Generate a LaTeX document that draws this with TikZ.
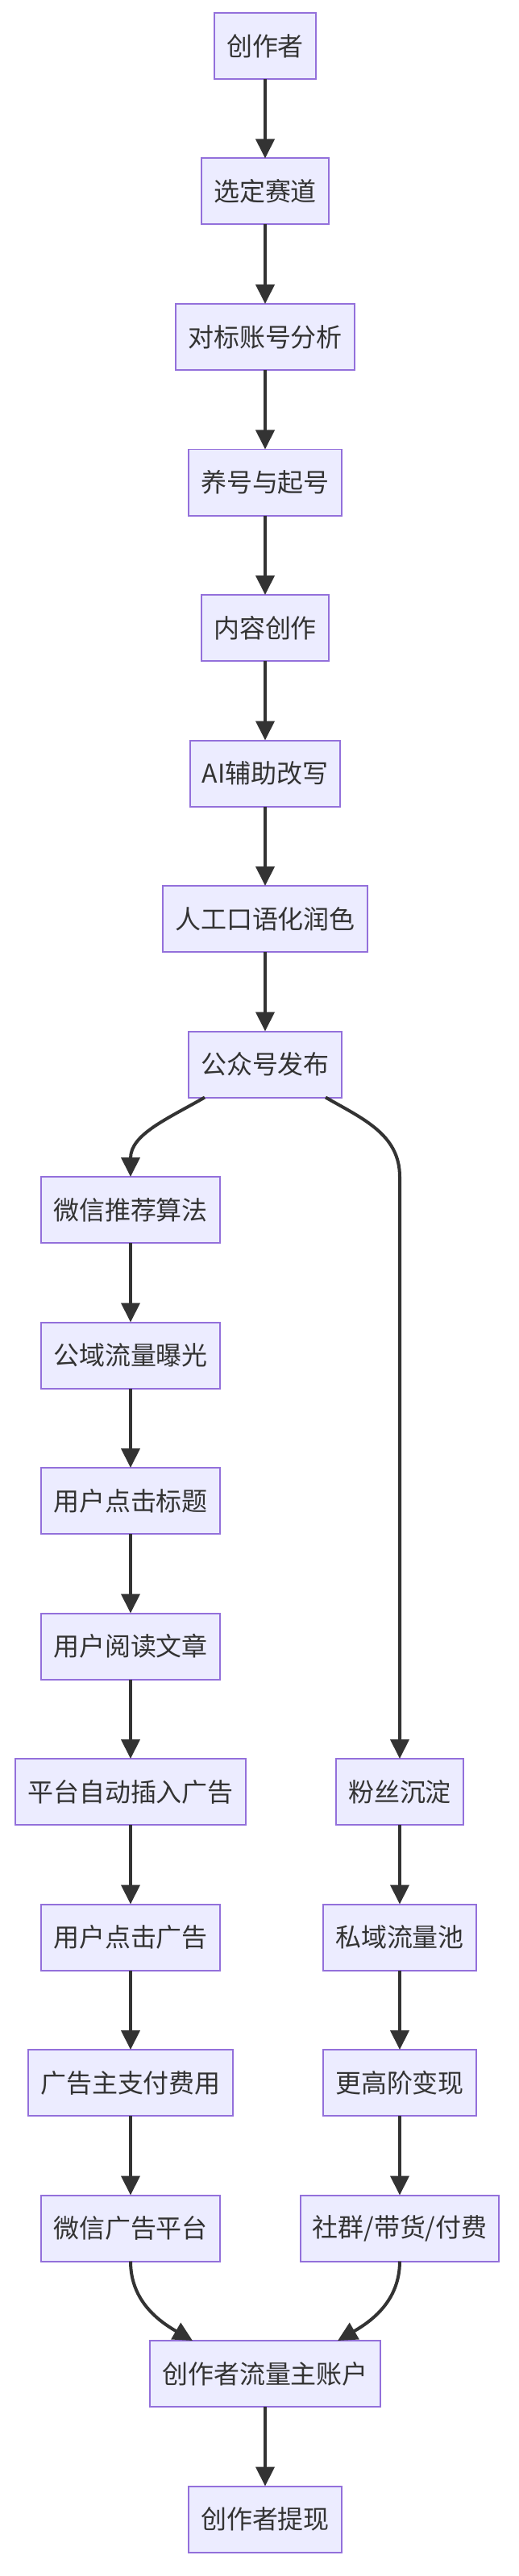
\documentclass[tikz,border=0pt]{standalone}
\usepackage{fontspec}
\setmainfont{Noto Sans CJK SC}
\usepackage{xcolor}
\usetikzlibrary{positioning, arrows.meta}
\definecolor{boxfill}{HTML}{ECECFF}
\definecolor{boxline}{HTML}{9370DB}
\definecolor{inkgray}{HTML}{333333}

\begin{document}
\begin{tikzpicture}[
    node distance=1.97cm,
    box/.style={rectangle, draw=boxline, fill=boxfill, line width=0.04cm, outer sep=0pt, minimum height=1.64cm, inner xsep=0.3cm, text=inkgray, font=\fontsize{18.2pt}{22pt}\selectfont},
    arrow/.style={-{Triangle[length=0.48cm, width=0.46cm]}, draw=inkgray, line width=0.08cm}
]
\useasboundingbox (0,0) rectangle (12.88,-63.92);

\node[box] (creator) at (6.58,-1.14) {创作者};
\node[box, below=of creator] (track) {选定赛道};
\node[box, below=of track] (bench) {对标账号分析};
\node[box, below=of bench] (raise) {养号与起号};
\node[box, below=of raise] (write) {内容创作};
\node[box, below=of write] (aiedit) {AI辅助改写};
\node[box, below=of aiedit] (polish) {人工口语化润色};
\node[box, below=of polish] (pub) {公众号发布};

\node[box, below=of pub, xshift=-3.34cm] (algo) {微信推荐算法};
\node[box, below=of algo] (expose) {公域流量曝光};
\node[box, below=of expose] (click) {用户点击标题};
\node[box, below=of click] (read) {用户阅读文章};
\node[box, below=of read] (insert) {平台自动插入广告};
\node[box, below=of insert] (adclick) {用户点击广告};
\node[box, below=of adclick] (pay) {广告主支付费用};
\node[box, below=of pay] (wxad) {微信广告平台};

\node[box] (fans) at ([xshift=6.68cm]insert.center) {粉丝沉淀};
\node[box, below=of fans] (pool) {私域流量池};
\node[box, below=of pool] (upgrade) {更高阶变现};
\node[box, below=of upgrade] (paid) {社群/带货/付费};

\node[box, below=of wxad, xshift=3.34cm] (acc) {创作者流量主账户};
\node[box, below=of acc] (cash) {创作者提现};

\draw[arrow] (creator) -- (track);
\draw[arrow] (track) -- (bench);
\draw[arrow] (bench) -- (raise);
\draw[arrow] (raise) -- (write);
\draw[arrow] (write) -- (aiedit);
\draw[arrow] (aiedit) -- (polish);
\draw[arrow] (polish) -- (pub);

\draw[arrow] ([xshift=-1.5cm]pub.south) to[out=-150, in=90] (algo);
\draw[arrow] ([xshift=1.5cm]pub.south) to[out=-30, in=90] (fans.north |- algo.north) -- (fans);

\draw[arrow] (algo) -- (expose);
\draw[arrow] (expose) -- (click);
\draw[arrow] (click) -- (read);
\draw[arrow] (read) -- (insert);
\draw[arrow] (insert) -- (adclick);
\draw[arrow] (adclick) -- (pay);
\draw[arrow] (pay) -- (wxad);

\draw[arrow] (fans) -- (pool);
\draw[arrow] (pool) -- (upgrade);
\draw[arrow] (upgrade) -- (paid);

\draw[arrow] (wxad) to[out=-90, in=150] ([xshift=-1.8cm]acc.north);
\draw[arrow] (paid) to[out=-90, in=30] ([xshift=1.8cm]acc.north);
\draw[arrow] (acc) -- (cash);
\end{tikzpicture}
\end{document}
